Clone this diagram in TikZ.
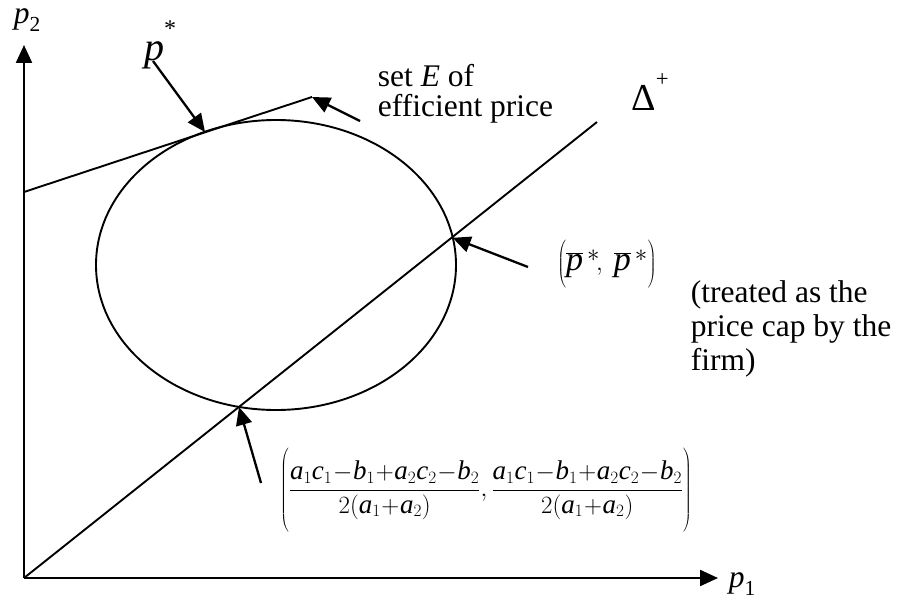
\documentclass[tikz,border=0pt]{standalone}
\usepackage{fontspec}
\setmainfont{Liberation Serif}
\usetikzlibrary{arrows.meta}
\newcommand\mi[1]{\textit{#1}}
\newcommand\tsub[1]{\raisebox{-0.28em}{\scalebox{0.68}{#1}}}
\newcommand\tsup[1]{\raisebox{0.62em}{\scalebox{0.6}{#1}}}
\begin{document}
\begin{tikzpicture}[x=1pt,y=-1pt,line width=1.9pt,
  lbl/.style={font=\fontsize{31.5}{32}\selectfont, inner sep=0pt},
  mathlbl/.style={font=\fontsize{27}{29}\selectfont, inner sep=0pt},
  axis/.style={line width=2.3pt,-{Triangle[length=18pt,width=16pt]}},
  pointer/.style={line width=2.3pt,-{Triangle[length=18pt,width=16pt]}}]
\useasboundingbox (0,0) rectangle (898,602);
% key points
\coordinate (O) at (24,578);
\coordinate (Ytip) at (24,45);
\coordinate (Xtip) at (718,578);
\coordinate (Dend) at (597,122);
\coordinate (A) at (24,192);
\coordinate (B) at (312,97);
\coordinate (T) at (205,132);
\coordinate (Ir) at (452.6,237.8);
\coordinate (Il) at (239,407);
\coordinate (Tp) at (153,61);
\coordinate (Te) at (360,121);
\coordinate (Tr) at (528,267);
\coordinate (Tl) at (261,483);
% axes
\draw[axis] (O) -- (Ytip);
\draw[axis] (O) -- (Xtip);
% curve set
\draw (276,265) ellipse [x radius=180, y radius=145];
\draw (O) -- (Dend);
\draw (A) -- (B);
% labels
\node[lbl] (p2) at (27,20) {\mi{p}\tsub{2}};
\node[lbl] (p1) at (742,584) {\mi{p}\tsub{1}};
\node[lbl,font=\fontsize{40}{40}\selectfont] (pstar) at (160,45) {\mi{p}\tsup{*}};
\node[lbl,anchor=base west] (setE1) at (377,87) {set \mi{E} of};
\node[lbl,anchor=base west] (setE2) at (377,117) {efficient price};
\node[lbl,font=\fontsize{38}{38}\selectfont] (delta) at (650,92) {Δ\tsup{+}};
\node[mathlbl,font=\fontsize{34}{36}\selectfont] (pbar) at (607,264)
  {$\left(\overline{\mi{p}}^{\,*}\!,\;\overline{\mi{p}}^{\,*}\rule[-14pt]{0pt}{44pt}\right)$};
\node[lbl,anchor=base west] (tr1) at (690,302) {(treated as the};
\node[lbl,anchor=base west] (tr2) at (690,336) {price cap by the};
\node[lbl,anchor=base west] (tr3) at (690,370) {firm)};
\node[mathlbl,font=\fontsize{27}{29}\selectfont] (formula) at (486,491)
  {\medmuskip=0.5mu\thickmuskip=1mu$\left(\displaystyle\frac{\mi{a}_1\mi{c}_1-\mi{b}_1+\mi{a}_2\mi{c}_2-\mi{b}_2}{2(\mi{a}_1+\mi{a}_2)},\frac{\mi{a}_1\mi{c}_1-\mi{b}_1+\mi{a}_2\mi{c}_2-\mi{b}_2}{2(\mi{a}_1+\mi{a}_2)}\rule[-38pt]{0pt}{76pt}\right)$};
% pointers
\draw[pointer] (Tp) -- (T);
\draw[pointer] (Te) -- (B);
\draw[pointer] (Tr) -- (Ir);
\draw[pointer] (Tl) -- (Il);
\end{tikzpicture}
\end{document}
